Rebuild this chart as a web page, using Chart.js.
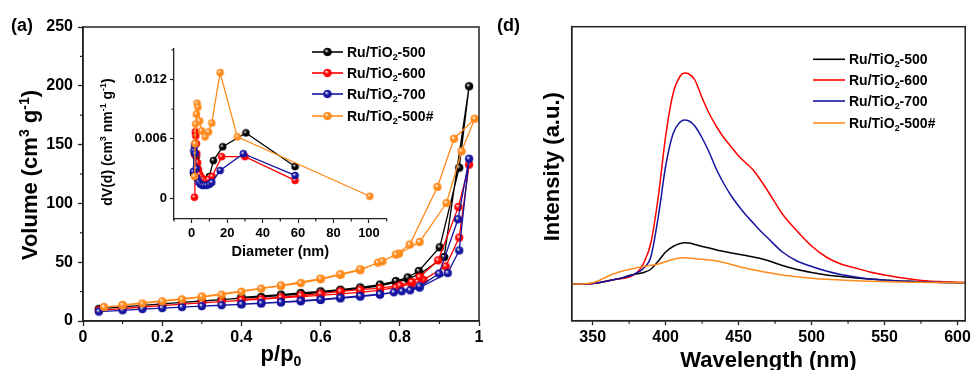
<!DOCTYPE html>
<html><head><meta charset="utf-8">
<script src="https://cdn.jsdelivr.net/npm/chart.js@4.4.0/dist/chart.umd.min.js"></script>
<style>
html,body{margin:0;padding:0;background:#fff;width:974px;height:370px;overflow:hidden;position:relative;}
canvas{position:absolute;display:block;}
</style></head>
<body>
<canvas id="cA" width="490" height="370" style="left:0;top:0;width:490px;height:370px"></canvas>
<canvas id="cI" width="300" height="227" style="left:95px;top:38px;width:300px;height:227px"></canvas>
<canvas id="cD" width="484" height="370" style="left:490px;top:0;width:484px;height:370px"></canvas>
<script>
// ---------- DATA ----------
const seriesNames = ['Ru/TiO2-500', 'Ru/TiO2-600', 'Ru/TiO2-700', 'Ru/TiO2-500#'];
const seriesColors = ['#000000', '#ff0000', '#1414a0', '#ff8a1c'];

// (a) N2 isotherms: adsorption / desorption branches
const p500Ads = [0.04,0.1,0.15,0.2,0.25,0.3,0.35,0.4,0.45,0.5,0.55,0.6,0.65,0.7,0.75,0.79,0.82,0.85,0.912,0.975];
const v500Ads = [10.3,12,13.3,14.6,15.8,17,18.2,19.4,20.5,21.6,22.8,24.2,25.8,27.6,29.8,32.8,35.5,40,54.4,199.6];
const p500Des = [0.95,0.901,0.848,0.82,0.79,0.75,0.7,0.65,0.6,0.55,0.5,0.4];
const v500Des = [130.4,62.7,42.5,37,34,31,28.5,26.6,25.2,23.8,22.4,20.0];

const p600Ads = [0.04,0.1,0.15,0.2,0.25,0.3,0.35,0.4,0.45,0.5,0.55,0.6,0.65,0.7,0.75,0.79,0.83,0.86,0.916,0.95,0.975];
const v600Ads = [9.1,10.5,11.9,13.1,14.3,15.4,16.5,17.6,18.6,19.6,20.7,21.8,23,24.4,26.2,28.5,31.5,35,46.5,70.9,133];
const p600Des = [0.948,0.897,0.85,0.83,0.8,0.75,0.7,0.65,0.6,0.55,0.5,0.4];
const v600Des = [97,51.6,37.5,33.2,30.2,28,26.6,25.2,23.2,21.8,20.1,18.1];

const p700Ads = [0.04,0.1,0.15,0.2,0.25,0.3,0.35,0.4,0.45,0.5,0.55,0.6,0.65,0.7,0.75,0.785,0.826,0.85,0.921,0.95,0.975];
const v700Ads = [8.0,9.1,10.1,11.0,11.8,12.6,13.4,14.2,15.0,15.8,16.8,17.9,19.2,20.7,22.4,24.4,26.1,28.4,40.8,60,138];
const p700Des = [0.947,0.899,0.85,0.805,0.75,0.7,0.65,0.6,0.55,0.5,0.45,0.4];
const v700Des = [86.5,40.3,29.5,25.3,22.9,21.3,19.8,18.3,17.2,16.1,15.1,14.3];

const p500hAds = [0.053,0.1,0.15,0.2,0.25,0.3,0.35,0.4,0.45,0.5,0.55,0.6,0.65,0.7,0.745,0.798,0.85,0.918,0.956,0.989];
const v500hAds = [11.9,13.3,14.9,16.7,18.4,20.4,22.4,24.9,27.5,29.8,32.3,35.5,39.2,43.2,49.6,57.3,67.2,100.3,144.3,172];
const p500hDes = [0.937,0.895,0.825,0.79,0.756,0.7,0.65,0.6,0.5,0.3,0.1];
const v500hDes = [155,114,65,56.5,50.8,44,39.8,36,30.2,20.8,13.6];

// (a) inset: pore size distribution
const d500 = [1.0,1.5,2.0,2.5,3.0,4.0,5.0,6.0,7.0,8.5,10,12.2,17.5,30.6,58.3];
const dv500 = [0.0025,0.0045,0.0055,0.0042,0.0031,0.0023,0.0019,0.0018,0.0018,0.0019,0.0022,0.0038,0.0052,0.0066,0.0032];
const d600 = [1.5,1.8,2.0,2.3,2.6,2.9,3.3,3.8,4.5,5.5,6.5,8,9.5,11.5,16.9,30,58.3];
const dv600 = [0.0001,0.0044,0.0067,0.0063,0.0055,0.0045,0.0036,0.0029,0.0024,0.0021,0.0019,0.0018,0.0019,0.0022,0.0042,0.0042,0.0018];
const d700 = [0.9,1.2,1.5,2.0,2.5,3,4,5,6,7,8.5,10,11.3,16,29.1,58.3];
const dv700 = [0.0027,0.0048,0.0053,0.0045,0.0030,0.0020,0.0016,0.0014,0.0013,0.0013,0.0013,0.0014,0.0016,0.0028,0.0045,0.0023];
const d500h = [1.5,1.8,2.2,2.6,3.0,3.5,4.5,5.5,7.5,9.5,11.3,16,25.7,100.5];
const dv500h = [0.0022,0.0055,0.0075,0.0085,0.0096,0.0092,0.0078,0.0068,0.0062,0.0067,0.0076,0.0127,0.0062,0.0002];

// (d) PL spectra
const wavelength = [335,345,350,355,360,365,370,375,380,385,390,395,400,405,410,413,416,420,425,430,435,440,445,450,455,460,465,470,480,490,500,510,520,530,540,550,560,570,580,590,600,605];
const pl500  = [0,0,0.5,1.5,3,4.5,6,8.5,10,11.5,15,23,32,37.5,40.5,41.3,41,39.5,37.5,36,34,32.5,31,29.8,28.5,27,25.5,23.5,18.5,14.5,11.5,9,7.5,6,5,4,3,2.5,2,1.6,1.3,1.2];
const pl600  = [0,0,0.5,1.5,3,4.5,5.5,7,11,21,42,88,148,190,208,211,210,204,186,170,157,146,137,128,121,114,104,93,70,53,38,27,20,16,12,9,6.5,4.5,3,2.3,1.8,1.6];
const pl700  = [0,0,0.5,1.5,3,4.5,6,8,11,16,28,68,118,150,162,164,163,158,146,131,114,100,88,78,69,61,53,46,32,23,17.5,13,9.5,7,5,3.8,3,2.5,2,1.6,1.3,1.2];
const pl500h = [0,0.3,1.3,4,7.5,10.5,12.8,14.5,16.3,17.5,18.7,20,22.3,24.5,26,26.3,26,25.3,24.7,24,23,21.5,19.5,17.5,15.8,14.3,12.8,11.5,9,7.2,5.8,4.8,4,3.3,2.8,2.4,2,1.8,1.6,1.4,1.3,1.2];

// tick values
const isoXTicks = [0,0.2,0.4,0.6,0.8,1];
const isoXMinor = [0.1,0.3,0.5,0.7,0.9];
const isoYTicks = [0,50,100,150,200,250];
const isoYMinor = [25,75,125,175,225];
const psdXTicks = [0,20,40,60,80,100];
const psdXMinor = [-10,10,30,50,70,90,110];
const psdYTicks = [0,0.006,0.012];
const psdYMinor = [0.003,0.009,0.015];
const plXTicks = [350,400,450,500,550,600];
const plXMinor = [375,425,475,525,575];

// ---------- HELPERS ----------
const FONT = "'Liberation Sans', Arial, Helvetica, sans-serif";
const AX = '#222';

function sphere(color, r) {
  const c = document.createElement('canvas');
  const s = Math.ceil(2 * r + 2);
  c.width = s; c.height = s;
  const g = c.getContext('2d');
  const cx = s / 2, cy = s / 2;
  const grad = g.createRadialGradient(cx - r * 0.35, cy - r * 0.4, r * 0.05, cx, cy, r);
  grad.addColorStop(0, '#ffffff');
  grad.addColorStop(0.5, color);
  grad.addColorStop(1, color);
  g.fillStyle = grad;
  g.beginPath(); g.arc(cx, cy, r, 0, Math.PI * 2); g.fill();
  g.strokeStyle = color; g.lineWidth = 1; g.stroke();
  return c;
}

function richWidth(ctx, segs, size) {
  let w = 0;
  for (const [t, m] of segs) {
    ctx.font = `bold ${m ? size * 0.64 : size}px ${FONT}`;
    w += ctx.measureText(t).width;
  }
  return w;
}
// y is the cap-centre of the main text line
function drawRich(ctx, segs, x, y, size, align, rot) {
  ctx.save();
  ctx.translate(x, y);
  if (rot) ctx.rotate(rot);
  const w = richWidth(ctx, segs, size);
  let cx = align === 'center' ? -w / 2 : 0;
  ctx.fillStyle = '#000';
  ctx.textBaseline = 'alphabetic';
  ctx.textAlign = 'left';
  const base = size * 0.358;
  for (const [t, m] of segs) {
    const s = m ? size * 0.64 : size;
    ctx.font = `bold ${s}px ${FONT}`;
    const dy = m === 1 ? -size * 0.36 : (m === -1 ? size * 0.22 : 0);
    ctx.fillText(t, cx, base + dy);
    cx += ctx.measureText(t).width;
  }
  ctx.restore();
}
function nameSegs(name) {
  const i = name.indexOf('2');
  return [[name.slice(0, i), 0], ['2', -1], [name.slice(i + 1), 0]];
}
function frame(chart) {
  const { ctx, chartArea: a } = chart;
  ctx.save(); ctx.strokeStyle = AX; ctx.lineWidth = 1.5;
  ctx.strokeRect(a.left, a.top, a.right - a.left, a.bottom - a.top);
  ctx.restore();
}
function minorTicks(chart, id, values, len) {
  const s = chart.scales[id]; const ctx = chart.ctx;
  ctx.save(); ctx.strokeStyle = AX; ctx.lineWidth = 1.2;
  for (const v of values) {
    const p = s.getPixelForValue(v);
    ctx.beginPath();
    if (s.isHorizontal()) { ctx.moveTo(p, s.top); ctx.lineTo(p, s.top + len); }
    else { ctx.moveTo(s.right, p); ctx.lineTo(s.right - len, p); }
    ctx.stroke();
  }
  ctx.restore();
}
function drawLegend(chart, x0, x1, xt, ys, markers) {
  const ctx = chart.ctx;
  seriesNames.forEach((n, i) => {
    const y = ys[i];
    ctx.save();
    ctx.strokeStyle = seriesColors[i]; ctx.lineWidth = 1.6;
    ctx.beginPath(); ctx.moveTo(x0, y); ctx.lineTo(x1, y); ctx.stroke();
    if (markers) { const m = markers[i]; ctx.drawImage(m, (x0 + x1) / 2 - m.width / 2, y - m.height / 2); }
    ctx.restore();
    drawRich(ctx, nameSegs(n), xt, y, 14, 'left', 0);
  });
}
function tickFont(sz) { return { family: FONT, size: sz, weight: 'bold' }; }
function pts(xs, ys) { return xs.map((x, i) => ({ x: x, y: ys[i] })); }
function fixTicks(vals) { return s => { s.ticks = vals.map(v => ({ value: v })); }; }
function numLabel(v) { return String(+v.toFixed(4)); }

const mainSpheres = seriesColors.map(c => sphere(c, 3.8));
const insetSpheres = seriesColors.map(c => sphere(c, 3.4));

// ---------- (a) main isotherm ----------
const isoSets = [
  [p500Ads, v500Ads, p500Des, v500Des],
  [p600Ads, v600Ads, p600Des, v600Des],
  [p700Ads, v700Ads, p700Des, v700Des],
  [p500hAds, v500hAds, p500hDes, v500hDes]
];
new Chart(document.getElementById('cA'), {
  type: 'line',
  data: {
    datasets: isoSets.map((s, i) => ({
      label: seriesNames[i],
      data: pts(s[0], s[1]).concat(pts(s[2], s[3])),
      borderColor: seriesColors[i], backgroundColor: seriesColors[i],
      borderWidth: 1.3, pointStyle: mainSpheres[i], pointRadius: 4, tension: 0
    })).reverse()
  },
  options: {
    responsive: false, animation: false, events: [],
    layout: { padding: { top: 27, right: 11, left: 0, bottom: 0 } },
    plugins: { legend: { display: false }, tooltip: { enabled: false } },
    scales: {
      x: {
        type: 'linear', min: 0, max: 1,
        afterFit: s => { s.height = 49; },
        afterBuildTicks: fixTicks(isoXTicks),
        ticks: { font: tickFont(16), color: '#000', padding: 2, maxRotation: 0, autoSkip: false, callback: numLabel },
        grid: { drawOnChartArea: false, tickLength: 5, color: AX, tickColor: AX, tickWidth: 1.3 },
        border: { display: true, color: AX, width: 1.5 }
      },
      y: {
        type: 'linear', min: 0, max: 250,
        afterFit: s => { s.width = 83; },
        afterBuildTicks: fixTicks(isoYTicks),
        ticks: { font: tickFont(16), color: '#000', padding: 5, autoSkip: false, callback: numLabel },
        grid: { drawOnChartArea: false, tickLength: 5, color: AX, tickColor: AX, tickWidth: 1.3 },
        border: { display: true, color: AX, width: 1.5 }
      }
    }
  },
  plugins: [{
    id: 'decoA',
    afterDraw(chart) {
      frame(chart);
      minorTicks(chart, 'x', isoXMinor, 3);
      minorTicks(chart, 'y', isoYMinor, 3);
      const ctx = chart.ctx;
      drawRich(ctx, [['Volume (cm', 0], ['3', 1], [' g', 0], ['-1', 1], [')', 0]], 29.5, 175, 22, 'center', -Math.PI / 2);
      drawRich(ctx, [['p/p', 0], ['0', -1]], 281, 353, 22, 'center', 0);
      drawRich(ctx, [['(a)', 0]], 11, 25, 18, 'left', 0);
      drawLegend(chart, 312, 343, 347, [52, 73, 94, 116], mainSpheres);
    }
  }]
});

// ---------- (a) inset PSD ----------
const psdSets = [[d500, dv500], [d600, dv600], [d700, dv700], [d500h, dv500h]];
new Chart(document.getElementById('cI'), {
  type: 'line',
  data: {
    datasets: psdSets.map((s, i) => ({
      label: seriesNames[i],
      data: pts(s[0], s[1]),
      borderColor: seriesColors[i], backgroundColor: seriesColors[i],
      borderWidth: 1.3, pointStyle: insetSpheres[i], pointRadius: 3.5, tension: 0
    })).reverse()
  },
  options: {
    responsive: false, animation: false, events: [],
    layout: { padding: { top: 10.3, right: 8.3, left: 0, bottom: 0 } },
    plugins: { legend: { display: false }, tooltip: { enabled: false } },
    scales: {
      x: {
        type: 'linear', min: -10, max: 110,
        afterFit: s => { s.height = 46; },
        afterBuildTicks: fixTicks(psdXTicks),
        ticks: { font: tickFont(13), color: '#000', padding: 3, maxRotation: 0, autoSkip: false, callback: numLabel },
        grid: { drawOnChartArea: false, tickLength: 4, color: AX, tickColor: AX, tickWidth: 1.2 },
        border: { display: true, color: AX, width: 1.3 },
        title: { display: true, text: 'Diameter (nm)', font: tickFont(14.5), color: '#000', padding: { top: 0, bottom: 4.4 } }
      },
      y: {
        type: 'linear', min: -0.0021, max: 0.0151,
        afterFit: s => { s.width = 79; },
        afterBuildTicks: fixTicks(psdYTicks),
        ticks: { font: tickFont(13), color: '#000', padding: 3, autoSkip: false, callback: numLabel },
        grid: { drawOnChartArea: false, tickLength: 4, color: AX, tickColor: AX, tickWidth: 1.2 },
        border: { display: true, color: AX, width: 1.3 }
      }
    }
  },
  plugins: [{
    id: 'decoI',
    afterDraw(chart) {
      minorTicks(chart, 'x', psdXMinor, 2.5);
      minorTicks(chart, 'y', psdYMinor, 2.5);
      drawRich(chart.ctx, [['dV(d) (cm', 0], ['3', 1], [' nm', 0], ['-1', 1], [' g', 0], ['-1', 1], [')', 0]], 11.5, 104, 14, 'center', -Math.PI / 2);
    }
  }]
});

// ---------- (d) PL spectra ----------
const plSets = [pl500, pl600, pl700, pl500h];
new Chart(document.getElementById('cD'), {
  type: 'line',
  data: {
    datasets: plSets.map((s, i) => ({
      label: seriesNames[i],
      data: pts(wavelength, s),
      borderColor: seriesColors[i], borderWidth: 1.5,
      pointRadius: 0, cubicInterpolationMode: 'monotone'
    })).reverse()
  },
  options: {
    responsive: false, animation: false, events: [],
    layout: { padding: { top: 26.7, right: 8, left: 0, bottom: 0 } },
    plugins: { legend: { display: false }, tooltip: { enabled: false } },
    scales: {
      x: {
        type: 'linear', min: 335.6, max: 605.3,
        afterFit: s => { s.height = 49.3; },
        afterBuildTicks: fixTicks(plXTicks),
        ticks: { font: tickFont(16), color: '#000', padding: 3, maxRotation: 0, autoSkip: false, callback: numLabel },
        grid: { drawOnChartArea: false, tickLength: 4.5, color: AX, tickColor: AX, tickWidth: 1.3 },
        border: { display: true, color: AX, width: 1.5 },
        title: { display: true, text: 'Wavelength (nm)', font: tickFont(22), color: '#000', padding: { top: 0, bottom: -4 } }
      },
      y: {
        type: 'linear', min: -36.7, max: 257.3,
        afterFit: s => { s.width = 81.7; },
        ticks: { display: false },
        grid: { display: false },
        border: { display: true, color: AX, width: 1.5 }
      }
    }
  },
  plugins: [{
    id: 'decoD',
    afterDraw(chart) {
      frame(chart);
      minorTicks(chart, 'x', plXMinor, 3);
      const ctx = chart.ctx;
      drawRich(ctx, [['Intensity (a.u.)', 0]], 61, 166.7, 22, 'center', -Math.PI / 2);
      drawRich(ctx, [['(d)', 0]], 7, 25, 18, 'left', 0);
      drawLegend(chart, 323, 355, 359, [59.3, 80, 101, 123], null);
    }
  }]
});
</script>
</body></html>
